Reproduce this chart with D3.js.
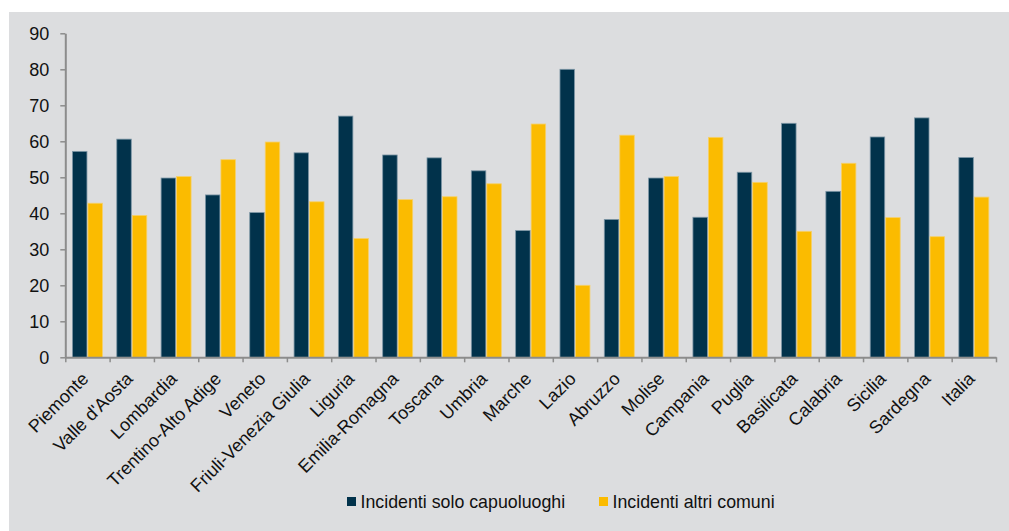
<!DOCTYPE html>
<html>
<head>
<meta charset="utf-8">
<script src="https://cdn.jsdelivr.net/npm/d3@7"></script>
<style>
  body { margin: 0; background: #fff; }
  svg { display: block; font-family: "Liberation Sans", Arial, sans-serif; }
</style>
</head>
<body>
<svg id="chart" width="1009" height="531"></svg>
<script>
const regions = ["Piemonte", "Valle d'Aosta", "Lombardia", "Trentino-Alto Adige", "Veneto",
  "Friuli-Venezia Giulia", "Liguria", "Emilia-Romagna", "Toscana", "Umbria", "Marche",
  "Lazio", "Abruzzo", "Molise", "Campania", "Puglia", "Basilicata", "Calabria", "Sicilia",
  "Sardegna", "Italia"];
const capoluoghi = [57.2, 60.6, 49.8, 45.1, 40.2, 56.8, 67.0, 56.2, 55.4, 51.8, 35.2,
  80.0, 38.3, 49.8, 38.9, 51.4, 65.0, 46.1, 61.2, 66.5, 55.5];
const altriComuni = [42.8, 39.4, 50.2, 54.9, 59.8, 43.2, 33.0, 43.8, 44.6, 48.2, 64.8,
  20.0, 61.7, 50.2, 61.1, 48.6, 35.0, 53.9, 38.8, 33.5, 44.5];
const seriesNames = ["Incidenti solo capuoluoghi", "Incidenti altri comuni"];
const yTicks = [0, 10, 20, 30, 40, 50, 60, 70, 80, 90];

const colors = ["#01324b", "#fbbb00"];
const strokes = ["#7d96a6", "#f6d06a"];

const svg = d3.select("#chart");

// grey panel
svg.append("rect")
  .attr("x", 9).attr("y", 12)
  .attr("width", 1000).attr("height", 519)
  .attr("fill", "#dcdddf");

const plotLeft = 65.3, plotRight = 996, plotTop = 33.3, plotBottom = 357.3;

const x0 = d3.scaleBand().domain(regions).range([plotLeft, plotRight]).padding(0);
const x1 = d3.scaleBand().domain([0, 1]).range([0, x0.bandwidth()])
  .paddingInner(0).paddingOuter(0.43);
const y = d3.scaleLinear().domain([0, 90]).range([plotBottom, plotTop]);

// bars
const groups = svg.append("g").selectAll("g")
  .data(regions)
  .join("g")
  .attr("transform", d => `translate(${x0(d)},0)`);

groups.selectAll("rect")
  .data((d, i) => [capoluoghi[i], altriComuni[i]])
  .join("rect")
  .attr("x", (d, s) => x1(s) + 0.5)
  .attr("y", d => y(d))
  .attr("width", x1.bandwidth() - 1)
  .attr("height", d => y(0) - y(d))
  .attr("fill", (d, s) => colors[s])
  .attr("stroke", (d, s) => strokes[s])
  .attr("stroke-width", 0.8);

// y axis
const yAxis = svg.append("g")
  .attr("transform", `translate(${plotLeft},0)`)
  .call(d3.axisLeft(y).tickValues(yTicks).tickSize(5).tickPadding(11).tickSizeOuter(0));
yAxis.select(".domain").attr("stroke", "#8c8c8c").attr("stroke-width", 2);
yAxis.selectAll(".tick line").attr("stroke", "#8c8c8c").attr("stroke-width", 1.5);
yAxis.selectAll(".tick text").attr("font-size", 18).attr("fill", "#111")
  .attr("font-family", "Liberation Sans, Arial, sans-serif");

// x axis: ticks at category boundaries
const xIdx = d3.scaleLinear().domain([0, regions.length]).range([plotLeft, plotRight]);
const xAxis = svg.append("g")
  .attr("transform", `translate(0,${plotBottom})`)
  .call(d3.axisBottom(xIdx).tickValues(d3.range(regions.length + 1))
    .tickFormat("").tickSize(5).tickSizeOuter(0));
xAxis.select(".domain").attr("stroke", "#8c8c8c").attr("stroke-width", 2);
xAxis.selectAll(".tick line").attr("stroke", "#8c8c8c").attr("stroke-width", 1.5);

// category labels
svg.append("g").selectAll("text")
  .data(regions)
  .join("text")
  .attr("transform", d => `translate(${x0(d) + x0.bandwidth() / 2 + 2},380) rotate(-45)`)
  .attr("text-anchor", "end")
  .attr("font-size", 18)
  .attr("fill", "#111")
  .text(d => d);

// legend
const legendX = [347, 599];
const legend = svg.append("g").selectAll("g")
  .data(seriesNames)
  .join("g")
  .attr("transform", (d, i) => `translate(${legendX[i]},497)`);
legend.append("rect")
  .attr("width", 9).attr("height", 9)
  .attr("fill", (d, i) => colors[i]);
legend.append("text")
  .attr("x", 13.5).attr("y", 10.5)
  .attr("font-size", 17.8)
  .attr("fill", "#111")
  .text(d => d);
</script>
</body>
</html>
